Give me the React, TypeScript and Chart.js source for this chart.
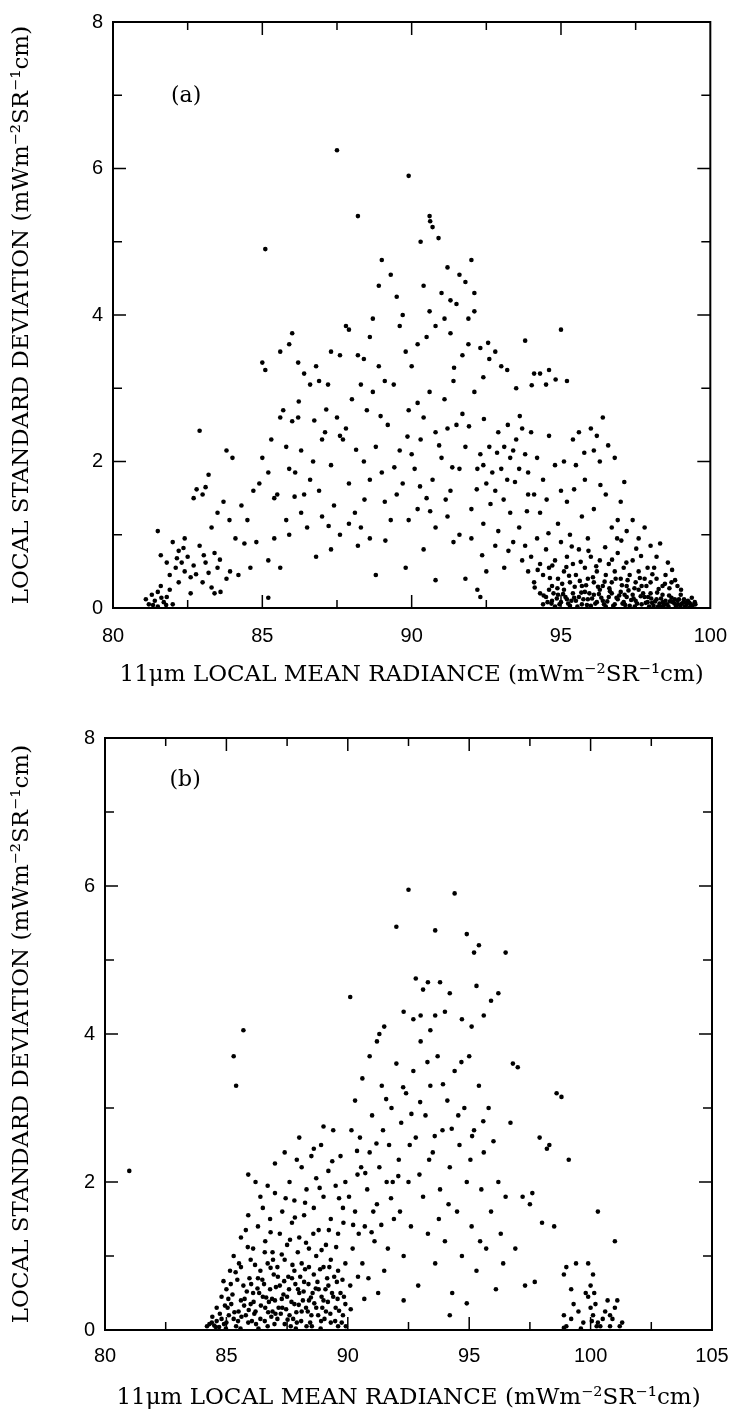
import React, { useEffect, useRef } from "react";
import { Chart, registerables } from "chart.js";

Chart.register(...registerables);

// ---------- tick labels ----------
const A_X_TICKS = [80, 85, 90, 95, 100];
const B_X_TICKS = [80, 85, 90, 95, 100, 105];
const Y_TICKS = [0, 2, 4, 6, 8];

const X_TITLE = "11\u03bcm LOCAL MEAN RADIANCE (mWm\u207b\u00b2SR\u207b\u00b9cm)";
const Y_TITLE = "LOCAL STANDARD DEVIATION (mWm\u207b\u00b2SR\u207b\u00b9cm)";

// ---------- panel (a) ----------
const aLeftCluster: [number, number][] = [
  [81.1, 0.12], [81.2, 0.05], [81.3, 0.18], [81.4, 0.1], [81.5, 0.22], [81.5, 0.02], [81.6, 0.3], [81.7, 0.08],
  [81.8, 0.15], [81.9, 0.25], [82.0, 0.05], [81.5, 1.05], [81.6, 0.72], [81.8, 0.62], [81.9, 0.45], [82.0, 0.9],
  [82.1, 0.55], [82.2, 0.78], [82.2, 0.35], [82.3, 0.62], [82.4, 0.5], [82.4, 0.95], [82.5, 0.7], [82.6, 0.42],
  [82.6, 0.2], [82.7, 0.58], [82.7, 1.5], [82.8, 1.62], [82.9, 0.85], [82.9, 2.42], [83.0, 1.55], [83.0, 0.35],
  [83.1, 1.65], [83.1, 0.62], [83.2, 1.82], [83.2, 0.48], [83.3, 0.28], [83.3, 1.1], [83.4, 0.75], [83.4, 0.2],
  [83.5, 0.55], [83.5, 1.3], [83.6, 0.22], [83.7, 1.45], [83.8, 2.15], [83.8, 0.4], [83.9, 1.2], [84.0, 2.05],
  [84.1, 0.95], [84.2, 0.45], [84.3, 1.4], [84.4, 0.88], [84.5, 1.2], [84.6, 0.55], [84.7, 1.6], [84.9, 1.7],
  [85.2, 0.14], [81.34, 0.04], [81.62, 0.14], [81.78, 0.04], [82.14, 0.68], [82.36, 0.82], [82.78, 0.46],
  [83.04, 0.72], [83.58, 0.66], [83.92, 0.5],
];

const aUpper: [number, number][] = [
  [85.0, 3.35], [85.1, 4.9], [85.1, 3.25], [85.6, 3.5], [85.9, 3.6], [86.0, 3.75], [86.2, 3.35], [86.4, 3.2],
  [86.6, 3.05], [86.9, 3.1], [87.2, 3.05], [87.3, 3.5], [87.5, 6.25], [87.8, 3.85], [87.9, 3.8], [88.2, 5.35],
  [88.2, 3.45], [88.4, 3.4], [88.6, 3.7], [88.7, 3.95], [88.9, 4.4], [88.9, 3.3], [89.0, 4.75], [89.1, 3.1],
  [89.3, 4.55], [89.5, 4.25], [89.7, 4.0], [89.8, 3.5], [89.9, 5.9], [90.0, 3.3], [90.2, 3.6], [90.3, 5.0],
  [90.5, 3.7], [90.6, 5.35], [90.6, 4.05], [90.7, 5.2], [90.8, 3.85], [90.9, 5.05], [91.0, 4.3], [91.1, 3.95],
  [91.2, 4.65], [91.3, 4.2], [91.3, 3.75], [91.5, 4.15], [91.6, 4.55], [91.7, 3.45], [91.9, 3.95], [91.9, 3.6],
  [92.0, 4.75], [92.1, 4.3], [92.1, 4.05], [92.3, 3.55], [92.6, 3.4], [92.8, 3.5], [93.0, 3.3], [93.2, 3.25],
  [93.8, 3.65], [94.1, 3.2], [94.3, 3.2], [94.6, 3.25], [94.5, 3.05], [95.0, 3.8], [95.2, 3.1], [89.4, 3.05],
  [87.6, 3.45], [86.8, 3.3], [90.4, 4.4], [91.8, 4.45], [89.6, 3.85], [88.3, 3.05], [92.4, 3.15], [93.5, 3.0],
  [90.62, 5.28], [91.42, 3.28], [92.56, 3.62], [94.02, 3.04], [94.82, 3.12],
];

const aMiddle: [number, number][] = [
  [85.0, 2.05], [85.2, 1.85], [85.3, 2.3], [85.4, 1.5], [85.5, 1.55], [85.6, 2.6], [85.7, 2.7], [85.8, 2.2],
  [85.9, 1.9], [86.0, 2.55], [86.2, 2.6], [86.3, 2.15], [86.1, 1.85], [86.4, 1.55], [85.8, 1.2], [85.9, 1.0],
  [86.3, 1.3], [86.6, 1.75], [86.7, 2.0], [86.9, 1.6], [87.0, 2.3], [87.1, 2.4], [87.3, 1.95], [87.4, 1.4],
  [87.6, 2.35], [87.7, 2.3], [87.8, 2.45], [87.5, 2.6], [87.9, 1.7], [88.0, 2.85], [88.1, 1.3], [88.3, 1.1],
  [88.4, 2.0], [88.5, 2.7], [88.6, 1.75], [88.7, 2.95], [88.8, 2.2], [89.0, 1.85], [89.2, 2.5], [89.3, 1.2],
  [89.5, 1.55], [89.6, 2.15], [89.7, 1.7], [89.9, 2.7], [90.0, 2.1], [90.1, 1.9], [90.2, 2.8], [90.3, 2.3],
  [90.4, 2.6], [90.5, 1.5], [90.6, 2.95], [90.7, 1.75], [90.8, 2.4], [91.0, 2.05], [91.1, 2.85], [91.2, 2.45],
  [91.3, 1.6], [91.4, 3.1], [91.5, 2.5], [91.6, 1.9], [91.7, 2.65], [91.8, 2.2], [92.0, 1.35], [92.1, 2.95],
  [92.2, 1.9], [92.3, 2.1], [92.4, 1.95], [92.5, 1.7], [92.6, 2.2], [92.7, 1.85], [92.8, 1.6], [92.9, 2.4],
  [93.0, 1.9], [93.1, 2.2], [93.2, 1.75], [93.3, 2.05], [93.4, 2.15], [93.5, 2.3], [93.6, 1.9], [93.7, 2.45],
  [93.8, 2.1], [93.9, 1.55], [84.8, 0.9], [85.2, 0.65], [85.6, 0.55], [86.8, 0.7], [87.3, 0.8], [87.6, 1.0],
  [88.2, 0.85], [88.8, 0.45], [89.8, 0.55], [90.4, 0.8], [90.8, 0.38], [91.4, 0.9], [91.8, 0.4], [92.2, 0.25],
  [92.3, 0.15], [92.5, 0.5], [92.8, 0.85], [93.1, 0.55], [93.4, 0.9], [93.7, 0.65], [85.4, 0.95], [86.5, 1.1],
  [87.0, 1.25], [87.9, 1.15], [88.6, 0.95], [89.1, 1.45], [89.9, 1.2], [90.2, 1.35], [90.8, 1.1], [91.2, 1.25],
  [91.6, 1.0], [92.0, 0.95], [92.4, 1.15], [92.9, 1.05], [93.3, 1.3], [93.6, 1.1],
  [86.22, 2.82], [86.74, 2.56], [87.14, 2.71], [88.14, 2.16], [88.96, 2.62], [89.42, 1.92], [89.86, 2.34],
  [90.28, 1.66], [90.92, 2.22], [91.36, 1.92], [91.92, 2.48], [92.42, 2.58], [92.86, 2.12], [93.22, 2.5],
  [93.62, 2.62], [90.62, 1.32], [89.12, 0.92], [91.14, 1.48], [88.42, 1.48], [87.22, 1.12], [86.08, 1.52],
  [92.18, 1.62], [92.64, 1.42], [93.08, 1.48], [93.46, 1.72], [93.86, 1.32], [92.36, 0.72], [93.24, 0.78],
];

const aRightMid: [number, number][] = [
  [94.0, 2.4], [94.2, 2.05], [94.4, 1.75], [94.6, 2.35], [94.8, 1.95], [95.0, 1.6], [95.2, 1.45], [95.4, 2.3],
  [95.5, 1.95], [95.6, 2.4], [95.8, 1.75], [96.0, 2.45], [96.1, 2.15], [96.2, 2.35], [96.3, 2.0], [96.4, 2.6],
  [96.5, 1.55], [96.7, 1.1], [96.8, 2.05], [96.9, 1.2], [97.0, 1.45], [97.2, 1.05], [94.3, 1.3], [94.9, 1.15],
  [95.3, 1.0], [95.7, 1.25], [96.1, 1.35], [97.4, 1.2], [97.6, 0.95], [97.8, 1.1], [98.0, 0.85], [98.2, 0.7],
  [95.1, 2.0], [94.1, 1.55], [93.9, 1.85], [95.9, 0.95],
  [93.8, 0.85], [93.9, 0.5], [94.0, 0.7], [94.1, 0.35], [94.2, 0.95], [94.3, 0.6], [94.4, 0.45], [94.5, 0.8],
  [94.6, 0.55], [94.7, 0.3], [94.8, 0.65], [94.9, 0.4], [95.0, 0.9], [95.1, 0.5], [95.2, 0.7], [95.3, 0.35],
  [95.4, 0.6], [95.5, 0.45], [95.6, 0.8], [95.7, 0.3], [95.8, 0.55], [95.9, 0.4], [96.0, 0.7], [96.1, 0.35],
  [96.2, 0.5], [96.3, 0.65], [96.4, 0.3], [96.5, 0.45], [96.6, 0.6], [96.7, 0.35], [96.8, 0.5], [96.9, 0.75],
  [97.0, 0.4], [97.1, 0.55], [97.2, 0.3], [97.3, 0.45], [97.4, 0.65], [97.5, 0.35], [97.6, 0.5], [97.7, 0.3],
  [97.8, 0.4], [97.9, 0.55], [98.0, 0.35], [98.2, 0.4], [98.4, 0.3], [98.5, 0.45], [98.7, 0.35], [98.9, 0.3],
  [94.12, 0.28], [94.63, 0.41], [94.88, 0.27], [95.04, 0.33], [95.27, 0.44], [95.46, 0.29], [95.63, 0.37],
  [95.84, 0.31], [96.07, 0.42], [96.24, 0.29], [96.46, 0.36], [96.62, 0.27], [96.83, 0.4], [97.04, 0.31],
  [97.23, 0.38], [97.46, 0.27], [97.64, 0.41], [97.86, 0.3], [98.06, 0.46], [98.27, 0.26], [98.48, 0.33],
  [98.63, 0.27], [98.82, 0.38], [99.02, 0.25], [94.22, 0.52], [94.71, 0.58], [95.18, 0.56], [95.66, 0.63],
  [96.18, 0.57], [96.71, 0.66], [97.19, 0.62], [97.68, 0.71], [98.12, 0.55], [98.58, 0.62], [95.92, 0.78],
  [96.48, 0.83], [97.02, 0.92], [97.52, 0.81], [94.58, 1.02], [95.36, 0.84], [96.88, 0.95], [98.32, 0.88],
  [98.72, 0.52], [95.78, 2.12], [96.58, 2.22], [94.52, 1.48], [95.44, 1.62], [96.32, 1.68], [97.12, 1.72],
];

const aRightLow: [number, number][] = [
  [94.3, 0.2], [94.4, 0.05], [94.5, 0.15], [94.6, 0.25], [94.7, 0.1], [94.8, 0.02], [94.9, 0.18], [95.0, 0.08],
  [95.1, 0.25], [95.2, 0.12], [95.3, 0.03], [95.4, 0.2], [95.5, 0.1], [95.6, 0.15], [95.7, 0.05], [95.8, 0.22],
  [95.9, 0.12], [96.0, 0.03], [96.1, 0.18], [96.2, 0.08], [96.3, 0.25], [96.4, 0.1], [96.5, 0.02], [96.6, 0.15],
  [96.7, 0.2], [96.8, 0.05], [96.9, 0.12], [97.0, 0.22], [97.1, 0.08], [97.2, 0.15], [97.3, 0.03], [97.4, 0.18],
  [97.5, 0.1], [97.6, 0.25], [97.7, 0.05], [97.8, 0.15], [97.9, 0.08], [98.0, 0.2], [98.1, 0.03], [98.2, 0.12],
  [98.3, 0.06], [98.4, 0.18], [98.5, 0.1], [98.6, 0.02], [98.7, 0.14], [98.8, 0.06], [98.9, 0.1], [99.0, 0.03],
  [99.1, 0.08], [99.2, 0.04], [99.3, 0.07], [99.4, 0.02], [99.5, 0.05],
  [94.55, 0.08], [94.75, 0.2], [94.95, 0.05], [95.15, 0.15], [95.35, 0.1], [95.55, 0.02], [95.75, 0.12],
  [95.95, 0.2], [96.15, 0.06], [96.35, 0.14], [96.55, 0.09], [96.75, 0.03], [96.95, 0.17], [97.15, 0.04],
  [97.35, 0.11], [97.55, 0.06], [97.75, 0.2], [97.95, 0.02], [98.15, 0.09], [98.35, 0.13], [98.55, 0.05],
  [98.75, 0.08], [98.95, 0.12], [99.15, 0.02], [99.25, 0.1], [99.35, 0.05], [98.05, 0.07], [98.25, 0.02],
  [98.45, 0.04], [98.65, 0.09], [98.85, 0.02], [99.05, 0.06],
  [94.42, 0.17], [94.68, 0.06], [94.86, 0.13], [95.07, 0.19], [95.24, 0.06], [95.44, 0.14], [95.68, 0.21],
  [95.87, 0.04], [96.04, 0.13], [96.27, 0.19], [96.44, 0.05], [96.64, 0.23], [96.86, 0.14], [97.06, 0.06],
  [97.26, 0.24], [97.43, 0.13], [97.67, 0.16], [97.84, 0.07], [98.02, 0.13], [98.22, 0.21], [98.41, 0.08],
  [98.62, 0.17], [98.81, 0.12], [99.01, 0.18], [99.21, 0.07], [99.38, 0.14], [99.48, 0.08], [97.13, 0.18],
  [97.47, 0.02], [97.92, 0.15], [98.38, 0.02], [98.92, 0.05], [99.12, 0.12], [99.32, 0.01],
];

// ---------- panel (b) ----------
const bLeftLow: [number, number][] = [
  [84.2, 0.05], [84.3, 0.08], [84.4, 0.1], [84.5, 0.06], [84.6, 0.12], [84.7, 0.04], [84.8, 0.15], [84.9, 0.08],
  [85.0, 0.1], [85.1, 0.2], [84.6, 0.3], [84.8, 0.45], [85.0, 0.55], [85.2, 0.35], [85.3, 0.15], [85.4, 0.05],
  [85.5, 0.25], [85.6, 0.4], [85.7, 0.6], [85.8, 0.2], [85.9, 0.1], [86.0, 0.35], [86.1, 0.5], [86.2, 0.25],
  [86.3, 0.7], [86.4, 0.15], [86.5, 0.45], [86.6, 0.3], [86.7, 0.05], [86.8, 0.55], [86.9, 0.25], [87.0, 0.4],
  [87.1, 0.15], [87.2, 0.6], [87.3, 0.3], [87.4, 0.08], [87.5, 0.45], [87.6, 0.2], [87.7, 0.7], [87.8, 0.35],
  [87.9, 0.1], [88.0, 0.5], [88.1, 0.25], [88.2, 0.65], [88.3, 0.05], [88.4, 0.4], [88.5, 0.2], [88.6, 0.75],
  [88.7, 0.3], [88.8, 0.55], [88.9, 0.12], [89.0, 0.4], [89.1, 0.25], [89.2, 0.6], [89.3, 0.1], [89.4, 0.45],
  [89.5, 0.3], [89.6, 0.05], [89.7, 0.5], [89.8, 0.2], [89.9, 0.35],
  [85.6, 0.85], [86.0, 0.95], [86.4, 0.8], [86.7, 0.9], [87.1, 0.85], [87.4, 0.95], [87.8, 0.8], [88.1, 0.9],
  [88.4, 0.85], [88.7, 1.0], [89.0, 0.85], [89.3, 0.95], [89.6, 0.8], [89.9, 0.9],
  [85.25, 0.48], [85.45, 0.68], [85.75, 0.42], [85.95, 0.7], [86.15, 0.22], [86.35, 0.5], [86.55, 0.62],
  [86.75, 0.38], [86.95, 0.75], [87.15, 0.3], [87.35, 0.48], [87.55, 0.72], [87.75, 0.15], [87.95, 0.55],
  [88.15, 0.4], [88.35, 0.25], [88.55, 0.5], [88.75, 0.65], [88.95, 0.3], [89.15, 0.7], [89.35, 0.5],
  [89.55, 0.65], [89.75, 0.1], [86.05, 0.12], [86.85, 0.18], [87.65, 0.05], [88.45, 0.1], [85.15, 0.8], [85.05, 0.3],
];

const bLeftDense: [number, number][] = [
  [84.42, 0.18], [84.56, 0.04], [84.73, 0.22], [84.94, 0.33], [85.08, 0.42], [85.18, 0.62], [85.33, 0.24],
  [85.48, 0.12], [85.62, 0.18], [85.73, 0.33], [85.84, 0.52], [85.92, 0.27], [86.02, 0.62], [86.12, 0.38],
  [86.22, 0.08], [86.28, 0.56], [86.42, 0.33], [86.48, 0.68], [86.58, 0.12], [86.64, 0.44], [86.72, 0.24],
  [86.82, 0.84], [86.88, 0.42], [86.98, 0.08], [87.04, 0.58], [87.12, 0.72], [87.24, 0.22], [87.28, 0.42],
  [87.38, 0.66], [87.46, 0.28], [87.52, 0.14], [87.58, 0.55], [87.68, 0.38], [87.72, 0.88], [87.84, 0.62],
  [87.88, 0.24], [87.98, 0.34], [88.04, 0.72], [88.08, 0.12], [88.18, 0.52], [88.24, 0.82], [88.28, 0.3],
  [88.38, 0.62], [88.48, 0.44], [88.52, 0.05], [88.62, 0.36], [88.68, 0.56], [88.78, 0.2], [88.86, 0.82],
  [88.92, 0.45], [89.04, 0.15], [89.08, 0.55], [89.18, 0.38], [89.24, 0.85], [89.28, 0.22], [89.44, 0.72],
  [89.48, 0.12], [89.58, 0.42], [89.64, 0.26], [89.78, 0.68], [89.84, 0.45], [89.92, 0.05], [85.52, 0.9],
  [85.88, 1.12], [86.18, 0.88], [86.58, 1.05], [86.92, 0.95], [87.28, 1.02], [87.62, 1.22], [87.94, 1.05],
  [88.28, 1.18], [88.58, 1.3], [88.92, 1.08], [89.22, 1.35], [89.52, 1.12], [89.82, 1.45], [84.88, 0.66],
  [85.38, 0.78], [84.98, 0.02], [85.58, 0.02], [86.32, 0.02], [87.02, 0.22], [87.86, 0.02], [88.88, 0.02],
];

const bLeftMid: [number, number][] = [
  [81.0, 2.15], [85.3, 3.7], [85.4, 3.3], [85.7, 4.05],
  [85.3, 1.0], [85.6, 1.25], [85.9, 1.55], [86.1, 1.1], [86.3, 1.4], [86.5, 1.65], [86.6, 1.2], [86.8, 1.5],
  [86.9, 1.05], [87.0, 1.85], [87.2, 1.3], [87.3, 1.6], [87.5, 1.15], [87.6, 2.0], [87.7, 1.45], [87.8, 1.75],
  [88.0, 1.25], [88.1, 2.2], [88.2, 1.55], [88.3, 1.9], [88.4, 1.1], [88.5, 2.35], [88.6, 1.65], [88.7, 2.05],
  [88.8, 1.35], [88.9, 2.5], [89.0, 1.8], [89.1, 1.15], [89.2, 2.15], [89.3, 1.5], [89.4, 2.7], [89.5, 1.95],
  [89.6, 1.3], [89.7, 2.35], [89.8, 1.65], [89.9, 2.0], [87.0, 2.25], [87.4, 2.4], [86.7, 1.95], [86.2, 2.0],
  [85.9, 2.1], [88.0, 2.6], [88.6, 2.45], [87.9, 2.3], [89.0, 2.75], [86.4, 1.8], [85.8, 1.35],
  [86.82, 1.32], [87.44, 1.78], [88.24, 1.72], [88.84, 1.92], [89.36, 2.28], [89.64, 1.78], [87.82, 1.52],
];

const bMiddle: [number, number][] = [
  [90.1, 0.6], [90.2, 1.1], [90.3, 1.6], [90.4, 2.1], [90.5, 2.6], [90.6, 0.9], [90.7, 1.4], [90.8, 1.9],
  [90.9, 2.4], [91.0, 2.9], [91.1, 1.2], [91.2, 1.7], [91.3, 2.2], [91.4, 3.3], [91.5, 0.8], [91.6, 2.0],
  [91.7, 2.5], [91.8, 3.0], [91.9, 1.5], [92.0, 3.6], [92.1, 2.3], [92.2, 2.8], [92.3, 1.0], [92.4, 3.2],
  [92.5, 2.0], [92.6, 1.4], [92.7, 3.5], [92.8, 2.6], [92.9, 0.6], [93.0, 3.9], [93.1, 1.8], [93.2, 2.9],
  [93.3, 1.3], [93.4, 3.3], [93.5, 2.4], [93.6, 0.9], [93.7, 3.7], [93.8, 1.9], [93.9, 2.7], [94.0, 1.2],
  [94.1, 3.1], [94.2, 2.2], [94.3, 0.5], [94.4, 3.5], [94.5, 1.6], [94.6, 2.5], [94.7, 1.0], [94.8, 3.0],
  [94.9, 2.0], [95.0, 3.7], [95.1, 1.4], [95.2, 2.7], [95.3, 0.8], [95.4, 3.3], [95.5, 1.9], [95.6, 2.4],
  [95.7, 1.1], [95.8, 3.0], [95.9, 1.6], [96.0, 2.55], [96.1, 0.55], [96.2, 2.0], [96.3, 1.3], [96.5, 1.8],
  [96.7, 2.8], [96.8, 3.6], [97.0, 3.55], [97.2, 1.8], [97.5, 1.7], [90.3, 3.1], [90.6, 3.4], [90.9, 3.7],
  [91.2, 3.9], [90.05, 1.8], [90.45, 1.3], [90.85, 0.7], [91.25, 0.5], [91.65, 1.1], [90.15, 2.7], [90.55, 2.2],
  [91.05, 1.6], [91.45, 2.7], [91.85, 2.0], [92.15, 1.6], [92.55, 2.5], [92.95, 2.1], [93.35, 2.3], [93.75, 1.5],
  [94.15, 1.7], [94.55, 2.9], [95.05, 2.3], [95.45, 1.2], [96.4, 0.9], [96.9, 1.1], [97.3, 0.6],
  [92.3, 0.4], [94.2, 0.2], [94.9, 0.36],
  [90.22, 1.42], [90.38, 2.42], [90.72, 2.12], [90.98, 1.32], [91.18, 2.52], [91.38, 1.42], [91.58, 3.12],
  [91.78, 1.78], [92.08, 2.08], [92.28, 3.28], [92.62, 2.92], [92.98, 3.08], [93.28, 3.62], [93.58, 2.62],
  [93.92, 3.32], [94.28, 2.72], [94.68, 3.62], [95.12, 2.62], [95.58, 2.82], [90.12, 0.28], [90.42, 0.72],
  [90.68, 0.42],
];

const bUpper: [number, number][] = [
  [90.1, 4.5], [91.3, 4.0], [91.5, 4.1], [92.0, 5.45], [92.5, 5.95], [92.7, 4.2], [92.8, 4.75], [93.0, 4.25],
  [93.1, 4.6], [93.3, 4.7], [93.6, 5.4], [93.6, 4.25], [93.8, 4.7], [94.0, 4.3], [94.4, 5.9], [94.7, 4.2],
  [94.9, 5.35], [95.1, 4.1], [95.2, 5.1], [95.4, 5.2], [95.6, 4.25], [95.9, 4.45], [96.2, 4.55], [96.5, 5.1],
  [92.3, 4.3], [93.4, 4.05], [94.2, 4.55], [95.3, 4.65],
];

const bRight: [number, number][] = [
  [97.9, 2.6], [98.3, 2.5], [98.6, 3.2], [98.8, 3.15], [99.1, 2.3], [98.0, 1.45], [98.5, 1.4], [98.9, 0.75],
  [99.0, 0.85], [99.4, 0.9], [99.9, 0.9], [100.3, 1.6], [101.0, 1.2], [97.7, 0.65], [99.2, 0.55], [99.0, 0.05],
  [99.2, 0.15], [99.5, 0.25], [99.8, 0.5], [99.9, 0.45], [100.0, 0.3], [100.1, 0.2], [100.2, 0.35], [100.3, 0.1],
  [100.5, 0.15], [100.6, 0.25], [100.8, 0.05], [101.0, 0.3], [101.1, 0.4], [101.3, 0.1], [100.4, 0.05],
  [100.0, 0.6], [100.1, 0.75], [99.7, 0.1], [100.7, 0.4], [100.9, 0.15], [101.2, 0.05], [99.3, 0.35],
  [100.15, 0.5], [100.25, 0.05], [98.2, 2.45], [97.6, 1.85], [99.6, 0.02], [100.05, 0.12], [98.9, 0.2],
  [98.9, 0.03], [100.8, 0.2],
];

// ---------- drawing helpers ----------
const framePlugin = {
  id: "frameTicks",
  afterDatasetsDraw(chart: any, _args: any, opts: any) {
    const { ctx, chartArea } = chart;
    const { left, right, top, bottom } = chartArea;
    const xs = chart.scales.x;
    const ys = chart.scales.y;
    ctx.save();
    ctx.strokeStyle = "#000";
    ctx.lineWidth = 2;
    ctx.beginPath();
    ctx.rect(left, top, right - left, bottom - top);
    ctx.stroke();
    ctx.lineWidth = 1.5;
    ctx.beginPath();
    for (let i = 1; ; i++) {
      const v = xs.min + i * opts.xMinor;
      if (v >= xs.max - 1e-6) break;
      const p = xs.getPixelForValue(v);
      const len = i % 2 === 0 ? 13 : 8;
      ctx.moveTo(p, bottom);
      ctx.lineTo(p, bottom - len);
      ctx.moveTo(p, top);
      ctx.lineTo(p, top + len);
    }
    for (let i = 1; ; i++) {
      const v = ys.min + i * opts.yMinor;
      if (v >= ys.max - 1e-6) break;
      const p = ys.getPixelForValue(v);
      const len = i % 2 === 0 ? 13 : 9;
      ctx.moveTo(left, p);
      ctx.lineTo(left + len, p);
      ctx.moveTo(right, p);
      ctx.lineTo(right - len, p);
    }
    ctx.stroke();
    ctx.fillStyle = "#000";
    ctx.font = "22px 'DejaVu Serif'";
    ctx.textAlign = "center";
    ctx.textBaseline = "middle";
    ctx.fillText(opts.tag, xs.getPixelForValue(opts.tagX), ys.getPixelForValue(opts.tagY));
    ctx.restore();
  },
};

function buildConfig(p: {
  sets: [number, number][][];
  xMax: number;
  xTicks: number[];
  xScaleHeight: number;
  yScaleWidth: number;
  xTickPad: number;
  xTitlePadBottom: number;
  padTop: number;
  padRight: number;
  tag: string;
  tagX: number;
  tagY: number;
}) {
  const tickFont = { family: "'Liberation Sans', Arial, sans-serif", size: 20 };
  const titleFont = { family: "'DejaVu Serif', serif", size: 23 };
  return {
    type: "scatter",
    data: {
      datasets: p.sets.map((s) => ({
        data: s.map(([x, y]) => ({ x, y })),
        backgroundColor: "#000",
        borderWidth: 0,
        pointRadius: 2.3,
        pointHoverRadius: 2.3,
      })),
    },
    options: {
      animation: false,
      responsive: false,
      maintainAspectRatio: false,
      events: [],
      layout: { padding: { top: p.padTop, right: p.padRight, left: 0, bottom: 0 } },
      plugins: {
        legend: { display: false },
        tooltip: { enabled: false },
        frameTicks: { xMinor: 2.5, yMinor: 1, tag: p.tag, tagX: p.tagX, tagY: p.tagY },
      },
      scales: {
        x: {
          type: "linear",
          min: 80,
          max: p.xMax,
          grid: { display: false, drawTicks: false },
          border: { display: false },
          afterBuildTicks: (s: any) => {
            s.ticks = p.xTicks.map((v) => ({ value: v }));
          },
          afterFit: (s: any) => {
            s.height = p.xScaleHeight;
          },
          ticks: {
            font: tickFont,
            color: "#000",
            padding: p.xTickPad,
            autoSkip: false,
            maxRotation: 0,
            callback: (v: any) => String(v),
          },
          title: {
            display: true,
            text: X_TITLE,
            font: titleFont,
            color: "#000",
            padding: { top: 0, bottom: p.xTitlePadBottom },
          },
        },
        y: {
          type: "linear",
          min: 0,
          max: 8,
          grid: { display: false, drawTicks: false },
          border: { display: false },
          afterBuildTicks: (s: any) => {
            s.ticks = Y_TICKS.map((v) => ({ value: v }));
          },
          afterFit: (s: any) => {
            s.width = p.yScaleWidth;
          },
          ticks: {
            font: tickFont,
            color: "#000",
            padding: 10,
            autoSkip: false,
            callback: (v: any) => String(v),
          },
          title: {
            display: true,
            text: Y_TITLE,
            font: titleFont,
            color: "#000",
            padding: { top: 8, bottom: 0 },
          },
        },
      },
    },
    plugins: [framePlugin],
  } as any;
}

function Panel(props: { cfg: any; width: number; height: number; top: number }) {
  const ref = useRef<HTMLCanvasElement | null>(null);
  useEffect(() => {
    if (!ref.current) return;
    const chart = new Chart(ref.current, props.cfg);
    return () => chart.destroy();
  }, []);
  return (
    <canvas
      ref={ref}
      width={props.width}
      height={props.height}
      style={{
        position: "absolute",
        left: 0,
        top: props.top,
        width: props.width,
        height: props.height,
        display: "block",
      }}
    />
  );
}

export default function App() {
  const cfgA = buildConfig({
    sets: [aLeftCluster, aUpper, aMiddle, aRightMid, aRightLow],
    xMax: 100,
    xTicks: A_X_TICKS,
    xScaleHeight: 92,
    yScaleWidth: 113,
    xTickPad: 16,
    xTitlePadBottom: 11,
    padTop: 22,
    padRight: 23,
    tag: "(a)",
    tagX: 82.45,
    tagY: 6.98,
  });
  const cfgB = buildConfig({
    sets: [bLeftLow, bLeftDense, bLeftMid, bMiddle, bUpper, bRight],
    xMax: 105,
    xTicks: B_X_TICKS,
    xScaleHeight: 89,
    yScaleWidth: 105,
    xTickPad: 14,
    xTitlePadBottom: 7,
    padTop: 38,
    padRight: 31,
    tag: "(b)",
    tagX: 83.3,
    tagY: 7.43,
  });
  return (
    <div
      style={{
        position: "absolute",
        left: 0,
        top: 0,
        width: 743,
        height: 1419,
        background: "#fff",
        overflow: "hidden",
      }}
    >
      <Panel cfg={cfgA} width={743} height={700} top={0} />
      <Panel cfg={cfgB} width={743} height={719} top={700} />
    </div>
  );
}
